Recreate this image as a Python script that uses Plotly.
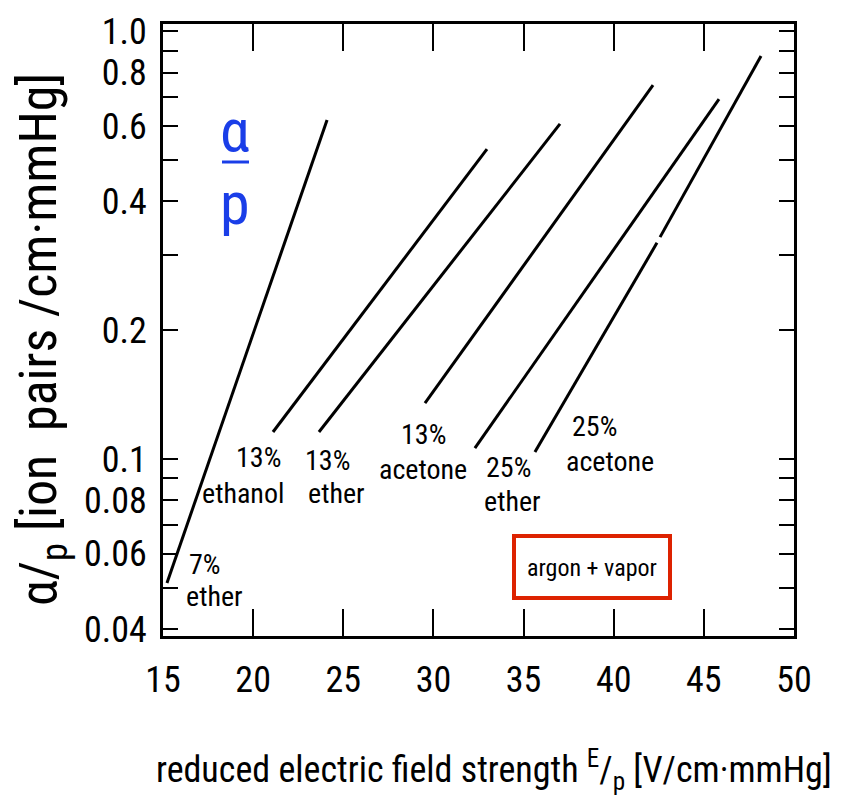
import plotly.graph_objects as go

# ---- data ----
series_names = ["7% ether", "13% ethanol", "13% ether", "13% acetone", "25% ether", "25% acetone"]
ether7_x = [15.22, 24.10]
ether7_y = [0.0513, 0.620]
ethanol13_x = [21.10, 32.97]
ethanol13_y = [0.1156, 0.530]
ether13_x = [23.65, 37.02]
ether13_y = [0.1156, 0.607]
acetone13_x = [29.53, 42.18]
acetone13_y = [0.135, 0.748]
ether25_x = [32.30, 45.84]
ether25_y = [0.106, 0.694]
acetone25_x = [35.63, 42.40, None, 42.57, 48.17]
acetone25_y = [0.1038, 0.320, None, 0.330, 0.875]

x_ticks = [15, 20, 25, 30, 35, 40, 45, 50]
y_ticks = [0.04, 0.06, 0.08, 0.1, 0.2, 0.4, 0.6, 0.8, 1.0]
y_tick_text = ["0.04", "0.06", "0.08", "0.1", "0.2", "0.4", "0.6", "0.8", "1.0"]
y_minor = [0.05, 0.07, 0.09, 0.3, 0.5, 0.7, 0.9]

# ---- layout geometry (page has an 8px body margin) ----
OFF = 8
W, H = 854 - OFF, 806 - OFF
L, R, T, B = 163 - OFF, 60, 24 - OFF, 170
PW, PH = W - L - R, H - T - B
FONT = "Liberation Sans Narrow, Roboto Condensed, DejaVu Sans Condensed, Liberation Sans, sans-serif"


def px(xp):
    return (xp - OFF - L) / PW


def py(yp):
    return (H - B - (yp - OFF)) / PH


fig = go.Figure()
for name, xs, ys in zip(series_names,
                        [ether7_x, ethanol13_x, ether13_x, acetone13_x, ether25_x, acetone25_x],
                        [ether7_y, ethanol13_y, ether13_y, acetone13_y, ether25_y, acetone25_y]):
    fig.add_trace(go.Scatter(x=xs, y=ys, mode="lines", name=name,
                             line=dict(color="black", width=3), connectgaps=False,
                             showlegend=False))

axis_common = dict(showline=True, linecolor="black", linewidth=3, mirror="ticks",
                   ticks="inside", tickcolor="black", tickwidth=2,
                   showgrid=False, zeroline=False, automargin=False,
                   tickfont=dict(family=FONT, size=36, color="black"))

fig.update_xaxes(range=[15, 50], tickvals=x_ticks, ticklen=27,
                 ticklabelstandoff=10, **axis_common)
fig.update_yaxes(type="log", range=[-1.414, 0.0168], tickvals=y_ticks, ticktext=y_tick_text,
                 ticklen=15, ticklabelstandoff=6,
                 minor=dict(tickvals=y_minor, ticks="inside", ticklen=15, tickwidth=2,
                            tickcolor="black", showgrid=False),
                 **axis_common)

ann = []


def label(text, xp, yp, size=28, color="black", **kw):
    ann.append(dict(text=text, x=px(xp), y=py(yp), xref="paper", yref="paper",
                    xanchor="center", yanchor="middle",
                    showarrow=False, font=dict(family=FONT, size=size, color=color), **kw))


label("7%", 205, 564)
label("ether", 214, 596)
label("13%", 258, 458)
label("ethanol", 243, 494)
label("13%", 327, 460)
label("ether", 336, 494)
label("13%", 423, 434)
label("acetone", 423, 469)
label("25%", 508, 467)
label("ether", 512, 501)
label("25%", 594, 426)
label("acetone", 610, 461)
label("argon + vapor", 592, 568, size=24)

# blue alpha / p
label("α", 235, 130, size=60, color="#1a3ee8")
label("p", 235, 204, size=60, color="#1a3ee8")

# axis titles
label("α/<sub>p</sub> [ion  pairs /cm·mmHg]", 42, 340, size=52, textangle=-90)
label("reduced electric field strength <sup>E</sup>/<sub>p</sub> [V/cm·mmHg]", 494, 770, size=36)

shapes = [
    dict(type="rect", xref="paper", yref="paper", x0=px(514), x1=px(670), y0=py(598), y1=py(536),
         line=dict(color="#dd2200", width=4), fillcolor="rgba(0,0,0,0)"),
    dict(type="line", xref="paper", yref="paper", x0=px(222), x1=px(249), y0=py(162), y1=py(162),
         line=dict(color="#1a3ee8", width=3)),
]

fig.update_layout(width=W, height=H, margin=dict(l=L, r=R, t=T, b=B, autoexpand=False),
                  paper_bgcolor="white", plot_bgcolor="white",
                  annotations=ann, shapes=shapes, showlegend=False,
                  font=dict(family=FONT, color="black"))

fig.write_html("out.html")
